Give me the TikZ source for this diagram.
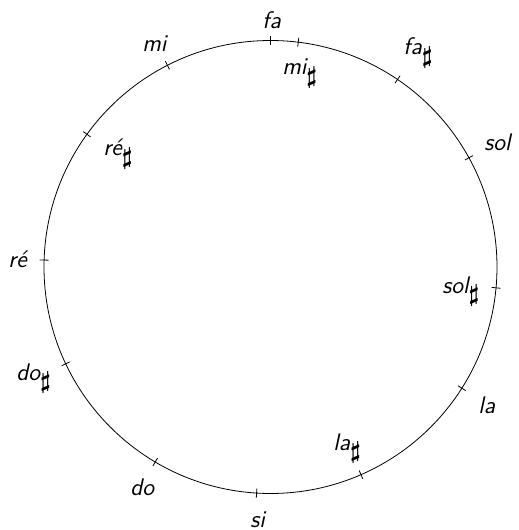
\documentclass[tikz,border=0pt]{standalone}
\usepackage{amsmath}
\usetikzlibrary{calc}
\newcommand{\shp}{$_{\textstyle\boldsymbol{\sharp}}$}
\begin{document}
\begin{tikzpicture}[x=0.5pt,y=0.5pt,
  lab/.style={anchor=base west, inner sep=0pt, font=\large\sffamily\itshape},
  tickmark/.style={line width=0.4pt}]
\useasboundingbox (-270.5,-263) rectangle (248.5,267);
\coordinate (c) at (0,0);
\draw (c) circle[radius=226.5];
% Pythagorean positions: angle = 90 - 0.3*cents
\foreach \a in {90,82.96,55.89,28.83,-5.28,-32.35,-66.45,-93.52,-120.59,-154.69,-181.76,-215.87,-242.93}
  \draw[tickmark] ($(c)+(\a:222)$) -- ($(c)+(\a:231)$);
\node[lab] (fa)   at (-8.5,238)    {fa};
\node[lab] (mis)  at (11.5,192)    {mi\shp};
\node[lab] (fas)  at (132.5,212)   {fa\shp};
\node[lab] (sol)  at (213.5,116)   {sol};
\node[lab] (sols) at (171.5,-26)   {sol\shp};
\node[lab] (la)   at (207.5,-146)  {la};
\node[lab] (las)  at (62.5,-183)   {la\shp};
\node[lab] (si)   at (-20.5,-260)  {si};
\node[lab] (do)   at (-140.5,-228) {do};
\node[lab] (dos)  at (-254.5,-113) {do\shp};
\node[lab] (re)   at (-262.5,-1)   {ré};
\node[lab] (res)  at (-167.5,111)  {ré\shp};
\node[lab] (mi)   at (-128.5,215)  {mi};
\end{tikzpicture}
\end{document}
